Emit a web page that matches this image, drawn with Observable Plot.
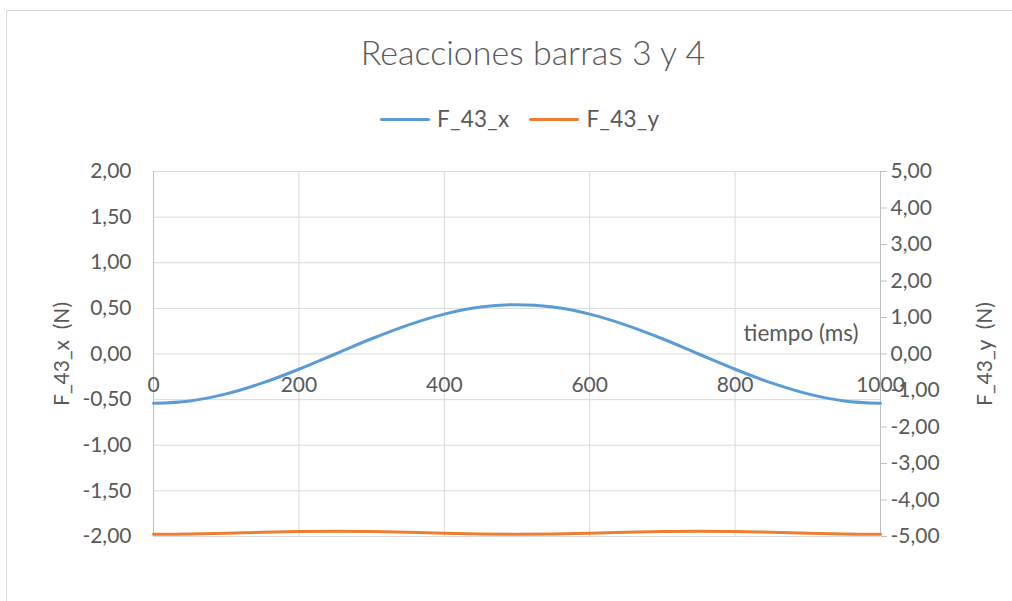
<!DOCTYPE html>
<html>
<head>
<meta charset="utf-8">
<script src="https://cdn.jsdelivr.net/npm/d3@7"></script>
<script src="https://cdn.jsdelivr.net/npm/@observablehq/plot@0.6"></script>
<style>
  html, body { margin: 0; background: #fff; overflow: hidden; }
  #wrap { position: relative; width: 1012px; height: 601px; overflow: hidden; background: #fff; font-family: Lato, "Open Sans", sans-serif; color: #595959; }
  #frame { position: absolute; left: 6px; top: 10px; width: 1200px; height: 800px; border-left: 1px solid #d9d9d9; border-top: 1px solid #d9d9d9; box-sizing: border-box; }
  #title { position: absolute; left: 0; top: 31px; width: 1066px; text-align: center; font-size: 34px; font-weight: 300; line-height: 42px; }
  #legend { position: absolute; left: 380px; top: 106px; display: flex; align-items: center; font-size: 22.5px; line-height: 26px; letter-spacing: 0.3px; }
  .sw { display: inline-block; width: 50px; height: 3px; border-radius: 2px; margin-right: 7px; }
  .item { display: flex; align-items: center; margin-right: 20px; }
  #chart { position: absolute; left: 0; top: 150px; }
</style>
</head>
<body>
<div id="wrap">
  <div id="frame"></div>
  <div id="title"></div>
  <div id="legend"></div>
  <div id="chart"></div>
</div>
<script>
// Data
const tiempo = [0, 50, 100, 150, 200, 250, 300, 350, 400, 450, 500, 550, 600, 650, 700, 750, 800, 850, 900, 950, 1000];
const F_43_x = [-0.54, -0.514, -0.437, -0.317, -0.167, 0.0, 0.167, 0.317, 0.437, 0.514, 0.54, 0.514, 0.437, 0.317, 0.167, 0.0, -0.167, -0.317, -0.437, -0.514, -0.54];
const F_43_y = [-4.94, -4.932, -4.910, -4.884, -4.863, -4.855, -4.863, -4.884, -4.910, -4.932, -4.94, -4.932, -4.910, -4.884, -4.863, -4.855, -4.863, -4.884, -4.910, -4.932, -4.94];
const xTicks = [0, 200, 400, 600, 800, 1000];
const yLeftTicks = [-2, -1.5, -1, -0.5, 0, 0.5, 1, 1.5, 2];
const yRightTicks = [-5, -4, -3, -2, -1, 0, 1, 2, 3, 4, 5];
const seriesNames = ["F_43_x", "F_43_y"];
const seriesColors = ["#5b9bd5", "#ed7d31"];
const title = "Reacciones barras 3 y 4";
const xTitle = "tiempo (ms)";
const yLeftTitle = "F_43_x\u00a0\u00a0(N)";
const yRightTitle = "F_43_y\u00a0\u00a0(N)";

// right axis maps [-5,5] onto left [-2,2]
const k = 2 / 5;
const fmt = v => v.toFixed(2).replace(".", ",");

const rows = [];
tiempo.forEach((t, i) => {
  rows.push({t, v: F_43_x[i], s: seriesNames[0]});
  rows.push({t, v: F_43_y[i] * k, s: seriesNames[1]});
});

const text = "#595959";
const grid = "#d9d9d9";
const axisC = "#bfbfbf";
const fs = 21;

const plot = Plot.plot({
  width: 1012,
  height: 420,
  marginLeft: 153,
  marginRight: 132,
  marginTop: 21,
  marginBottom: 34,
  style: {fontFamily: "Lato, 'Open Sans', sans-serif", fontSize: fs + "px", color: text, background: "transparent"},
  x: {domain: [0, 1000], axis: null},
  y: {domain: [-2, 2], axis: null},
  color: {domain: seriesNames, range: seriesColors},
  marks: [
    Plot.gridX(xTicks, {stroke: grid, strokeOpacity: 1, strokeWidth: 1}),
    Plot.gridY(yLeftTicks, {stroke: grid, strokeOpacity: 1, strokeWidth: 1}),
    Plot.ruleX([0], {stroke: axisC}),
    Plot.ruleX([1000], {stroke: axisC}),
    Plot.axisY(yLeftTicks, {anchor: "left", tickSize: 0, tickPadding: 22, tickFormat: fmt, fill: text, fontSize: fs, label: null}),
    Plot.axisY(yRightTicks.map(v => v * k), {anchor: "right", tickSize: 6, tickPadding: 4, stroke: axisC, tickFormat: d => fmt(d / k), fill: text, fontSize: fs, label: null}),
    Plot.line(rows, {x: "t", y: "v", z: "s", stroke: "s", strokeWidth: 3, curve: "catmull-rom"}),
    Plot.text(xTicks, {x: d => d, y: () => 0, dy: 31, text: d => String(d), fill: text, fontSize: fs}),
    Plot.text([xTitle], {frameAnchor: "right", dx: -22, dy: -20, textAnchor: "end", fill: text, fontSize: 22.5}),
    Plot.text([yLeftTitle], {frameAnchor: "left", dx: -91, rotate: -90, textAnchor: "middle", fill: text, fontSize: fs}),
    Plot.text([yRightTitle], {frameAnchor: "right", dx: 105, rotate: -90, textAnchor: "middle", fill: text, fontSize: fs})
  ]
});
document.getElementById("chart").appendChild(plot);
document.getElementById("title").textContent = title;
const leg = document.getElementById("legend");
seriesNames.forEach((n, i) => {
  const it = document.createElement("div");
  it.className = "item";
  it.innerHTML = `<span class="sw" style="background:${seriesColors[i]}"></span><span>${n}</span>`;
  leg.appendChild(it);
});
</script>
</body>
</html>
